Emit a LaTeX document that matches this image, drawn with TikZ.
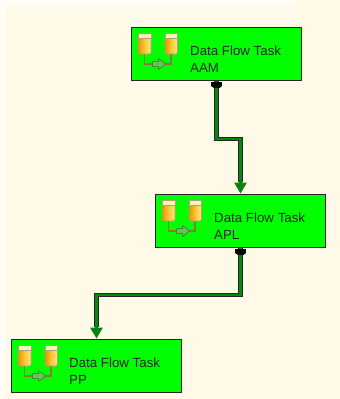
\documentclass[tikz,border=0pt]{standalone}
\usepackage{fontspec}
\setmainfont{Liberation Sans}
\usepackage{xcolor}
\usetikzlibrary{calc,arrows.meta}
\definecolor{paper}{HTML}{FFFAE8}
\definecolor{paperedge}{HTML}{FFFDF6}
\definecolor{taskgreen}{HTML}{00FF00}
\definecolor{linkgreen}{HTML}{088510}
\definecolor{pipe}{HTML}{857C3C}
\definecolor{canleft}{HTML}{DE9608}
\definecolor{canmid}{HTML}{FFC830}
\definecolor{canright}{HTML}{FFE88C}
\definecolor{cantop}{HTML}{FFF2B8}
\definecolor{flowarrow}{HTML}{6FBF55}
\tikzset{
	taskbox/.style={draw=black!85,line width=1.8pt,fill=taskgreen,minimum width=170pt,minimum height=53pt,inner sep=0pt},
	tasklabel/.style={anchor=north west,align=left,font=\fontsize{13.3}{16.5}\selectfont,text=black!85,inner sep=0pt},
	linkline/.style={draw=black!85,line width=4.6pt},
	linkcore/.style={draw=linkgreen,line width=2.8pt,-{Triangle[length=11pt,width=12pt,fill=linkgreen]}},
	linkdot/.style={anchor=north,fill=black,inner sep=0pt,minimum width=11pt,minimum height=4pt},
	canbody/.style={left color=canleft,right color=canright,middle color=canmid,draw=pipe!70,line width=0.6pt,rounded corners=1.5pt},
	dbicon/.pic={
		\draw[pipe,line width=1.4pt] (-5,0) |- (21.5,10) -- (21.5,0);
		\path[canbody] (-11.5,-20) rectangle (1.5,0);
		\path[canbody] (15.5,-20) rectangle (28,0);
		\fill[cantop,draw=pipe!70,line width=0.5pt] (-11.5,-21) rectangle (1.5,-16);
		\fill[cantop,draw=pipe!70,line width=0.5pt] (15.5,-21) rectangle (28,-16);
		\fill[flowarrow,draw=green!30!black!80,line width=0.5pt] (3,7.5) -- (9,7.5) -- (9,4.5) -- (16,10) -- (9,15.5) -- (9,12.5) -- (3,12.5) -- cycle;
	}
}
\begin{document}
\begin{tikzpicture}[x=1pt,y=-1pt]
	\useasboundingbox (0,0) rectangle (340,399);
	\fill[paper] (0,0) rectangle (340,399);
	\fill[paperedge] (0,0) rectangle (295,6);
	\fill[paperedge] (0,0) rectangle (5,399);
	
	\node[taskbox] (aam) at (216.5,54) {};
	\node[taskbox] (apl) at (240.5,221) {};
	\node[taskbox] (pp) at (96.5,366) {};
	
	\coordinate (bendA) at (229,139);
	\coordinate (bendB) at (170,295);
	
	\pic at (aam.center) [xshift=-67pt] {dbicon};
	\pic at (apl.center) [xshift=-67pt] {dbicon};
	\pic at (pp.center) [xshift=-67pt] {dbicon};
	
	\node[tasklabel] (aamtext) at (190,46) {Data Flow Task\\AAM};
	\node[tasklabel] (apltext) at (214,213) {Data Flow Task\\APL};
	\node[tasklabel] (pptext) at (69,358) {Data Flow Task\\PP};
	
	\draw[linkline] (aam.south) |- (bendA) -| ($(apl.north)+(0,-12)$);
	\draw[linkcore] (aam.south) |- (bendA) -| (apl.north);
	\draw[linkline] (apl.south) |- (bendB) -| ($(pp.north)+(0,-12)$);
	\draw[linkcore] (apl.south) |- (bendB) -| (pp.north);
	
	\node[linkdot] (aamdot) at (aam.south) {};
	\node[linkdot] (apldot) at (apl.south) {};
	\fill (aamdot.south west) -- (aamdot.south east) -- ++(-2.5,2) -- ++(-6,0) -- cycle;
	\fill (apldot.south west) -- (apldot.south east) -- ++(-2.5,2) -- ++(-6,0) -- cycle;
\end{tikzpicture}
\end{document}
